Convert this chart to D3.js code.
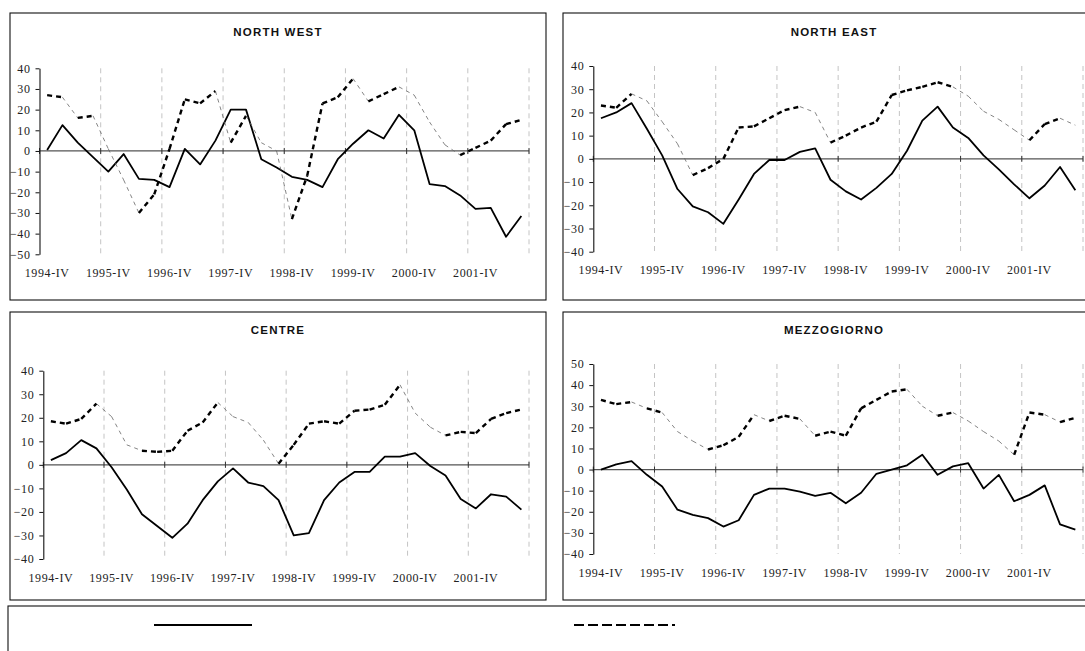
<!DOCTYPE html>
<html>
<head>
<meta charset="utf-8">
<script src="https://cdn.jsdelivr.net/npm/d3@7"></script>
<style>
  body { margin: 0; background: #fff; }
  svg { display: block; }
  .tick text { font-family: "Liberation Serif", "Times New Roman", serif; font-size: 12px; letter-spacing: 0.6px; fill: #222; }
  .title { font-family: "Liberation Sans", Arial, sans-serif; font-weight: bold; font-size: 11.5px; letter-spacing: 1.2px; fill: #111; }
</style>
</head>
<body>
<svg id="chart" width="1085" height="651"></svg>
<script>
// quarters on the category axis
const quarters = [
  "1994-IV", "1995-I", "1995-II", "1995-III", "1995-IV", "1996-I", "1996-II", "1996-III",
  "1996-IV", "1997-I", "1997-II", "1997-III", "1997-IV", "1998-I", "1998-II", "1998-III",
  "1998-IV", "1999-I", "1999-II", "1999-III", "1999-IV", "2000-I", "2000-II", "2000-III",
  "2000-IV", "2001-I", "2001-II", "2001-III", "2001-IV", "2002-I", "2002-II", "2002-III"
];
const yearTicks = ["1994-IV", "1995-IV", "1996-IV", "1997-IV", "1998-IV", "1999-IV", "2000-IV", "2001-IV"];

const regions = ["NORTH WEST", "NORTH EAST", "CENTRE", "MEZZOGIORNO"];

const nwSolid  = [0.5, 12.5, 4, -3, -10, -1.5, -13.5, -14, -17.5, 1, -6.5, 5, 20, 20, -4, -8, -12.5, -14, -17.5, -4, 3.5, 10, 6, 17.5, 10, -16, -17, -21.5, -28, -27.5, -41.5, -31.5];
const nwDashed = [27, 26, 16, 17, 1, -14, -30, -21, 1, 25, 23, 29, 4, 17, 4, 0, -33, -12, 23, 26, 35, 24, 27.5, 31, 27, 14, 3, -2, 1.5, 5, 13, 15];

const neSolid  = [17.5, 20, 24, 13, 1.5, -13, -20.5, -23, -28, -17.5, -6.5, -0.5, -0.5, 3, 4.5, -9, -14, -17.5, -12.5, -6.5, 3.5, 16.5, 22.5, 13.5, 9, 1.5, -4.5, -11, -17, -11.5, -3.5, -13.5];
const neDashed = [23, 22, 28, 25, 16, 6.5, -7, -4, 0, 13.5, 14, 17.5, 21, 22.5, 20, 7, 10, 13.5, 16, 27.5, 29.5, 31, 33, 31, 27, 20.5, 17, 12.5, 8, 15, 17.5, 14.5];

const ceSolid  = [2, 5, 10.5, 7, -1, -10.5, -21, -26, -31, -25, -15, -7, -1.5, -7.5, -9, -15, -30, -29, -15, -7.5, -3, -3, 3.5, 3.5, 5, -0.5, -4.5, -14.5, -18.5, -12.5, -13.5, -19];
const ceDashed = [18.5, 17.5, 19.5, 26, 20.5, 8.5, 6, 5.5, 6, 14.5, 18, 26.5, 20.5, 18, 10.5, 0.5, 8.5, 17.5, 18.5, 17.5, 23, 23.5, 25.5, 34, 22, 16, 12.5, 14, 13.5, 19.5, 22, 23.5];

const meSolid  = [0, 2.5, 4, -2.5, -8, -19, -21.5, -23, -27, -24, -12, -9, -9, -10.5, -12.5, -11, -16, -11, -2, 0, 2, 7, -2.5, 1.5, 3, -9, -2.5, -15, -12, -7.5, -26, -28.5];
const meDashed = [33, 31, 32, 29, 27, 18, 13.5, 9.5, 11.5, 15.5, 26, 23, 25.5, 24, 16, 18, 16, 29, 33, 37, 38, 30, 25.5, 27, 23, 18, 13.5, 7, 27, 26, 22.5, 24.5];

const svg = d3.select("#chart");

// layout of the four boxes (box = x, y, w, h ; plot = left, right, top, bottom)
const panels = [
  { title: regions[0], solid: nwSolid, dashed: nwDashed, domain: [-50, 40], box: [10, 13, 536, 287], plot: [39.5, 529, 68.3, 254.3], titleY: 36 },
  { title: regions[1], solid: neSolid, dashed: neDashed, domain: [-40, 40], box: [563, 13, 542, 287], plot: [593.3, 1083, 66, 251.7], titleY: 36 },
  { title: regions[2], solid: ceSolid, dashed: ceDashed, domain: [-40, 40], box: [10, 312, 536, 288], plot: [43.3, 529, 370.7, 559], titleY: 334 },
  { title: regions[3], solid: meSolid, dashed: meDashed, domain: [-40, 50], box: [563, 312, 542, 288], plot: [593.3, 1083, 364, 554], titleY: 334 }
];

panels.forEach(p => {
  const [bx, by, bw, bh] = p.box;
  const [x0, x1, yTop, yBot] = p.plot;
  const g = svg.append("g");

  g.append("rect")
    .attr("x", bx).attr("y", by).attr("width", bw).attr("height", bh)
    .attr("fill", "none").attr("stroke", "#111").attr("stroke-width", 1.1);

  g.append("text").attr("class", "title")
    .attr("x", bx + bw / 2).attr("y", p.titleY)
    .attr("text-anchor", "middle")
    .text(p.title);

  const x = d3.scaleBand().domain(quarters).range([x0, x1]).padding(0);
  const y = d3.scaleLinear().domain(p.domain).range([yBot, yTop]);
  const cx = q => x(q) + x.bandwidth() / 2;

  // vertical dashed gridlines at every year boundary
  const gridX = yearTicks.slice(1).map(q => x(q)).concat([x1]);
  g.selectAll(".grid").data(gridX).enter().append("line")
    .attr("x1", d => d).attr("x2", d => d)
    .attr("y1", yTop).attr("y2", yBot)
    .attr("stroke", "#c4c4c4").attr("stroke-width", 1)
    .attr("stroke-dasharray", "5,4");

  // zero line with cross ticks
  g.append("line")
    .attr("x1", x0).attr("x2", x1).attr("y1", y(0)).attr("y2", y(0))
    .attr("stroke", "#555").attr("stroke-width", 1.2);
  g.selectAll(".zt").data([x0].concat(gridX)).enter().append("line")
    .attr("x1", d => d).attr("x2", d => d)
    .attr("y1", y(0) - 3).attr("y2", y(0) + 3)
    .attr("stroke", "#333").attr("stroke-width", 1);

  // y axis
  const yAxis = d3.axisLeft(y)
    .tickValues(d3.range(p.domain[0], p.domain[1] + 1, 10))
    .tickSize(4).tickSizeOuter(0).tickPadding(5)
    .tickFormat(d3.format("d"));
  const ya = g.append("g").attr("transform", `translate(${x0},0)`).call(yAxis);
  ya.select(".domain").attr("stroke", "#111").attr("stroke-width", 1.1);
  ya.selectAll(".tick line").attr("stroke", "#111");

  // category labels
  const xAxis = d3.axisBottom(x).tickValues(yearTicks).tickSize(0).tickPadding(14);
  const xa = g.append("g").attr("transform", `translate(0,${yBot})`).call(xAxis);
  xa.select(".domain").remove();

  // solid series
  const line = d3.line().x((d, i) => cx(quarters[i])).y(d => y(d));
  g.append("path").datum(p.solid)
    .attr("d", line)
    .attr("fill", "none").attr("stroke", "#000").attr("stroke-width", 1.8)
    .attr("stroke-linejoin", "round");

  // dashed series: rising parts print bold, falling parts fine
  const segs = d3.pairs(p.dashed.map((v, i) => [cx(quarters[i]), y(v), v]));
  const fine = d => d[1][2] < d[0][2] - 2;
  g.selectAll(".ds").data(segs).enter().append("line")
    .attr("x1", d => d[0][0]).attr("y1", d => d[0][1])
    .attr("x2", d => d[1][0]).attr("y2", d => d[1][1])
    .attr("stroke", d => fine(d) ? "#666" : "#000")
    .attr("stroke-width", d => fine(d) ? 0.8 : 2.4)
    .attr("stroke-dasharray", d => fine(d) ? "4,4" : "5,4");
});

// legend box
const lg = svg.append("g");
lg.append("rect")
  .attr("x", 8).attr("y", 606).attr("width", 1100).attr("height", 60)
  .attr("fill", "none").attr("stroke", "#111").attr("stroke-width", 1.1);
lg.append("line")
  .attr("x1", 154).attr("x2", 252).attr("y1", 625).attr("y2", 625)
  .attr("stroke", "#000").attr("stroke-width", 2.2);
lg.append("line")
  .attr("x1", 574).attr("x2", 675).attr("y1", 625).attr("y2", 625)
  .attr("stroke", "#000").attr("stroke-width", 2.2)
  .attr("stroke-dasharray", "10,4");
</script>
</body>
</html>
